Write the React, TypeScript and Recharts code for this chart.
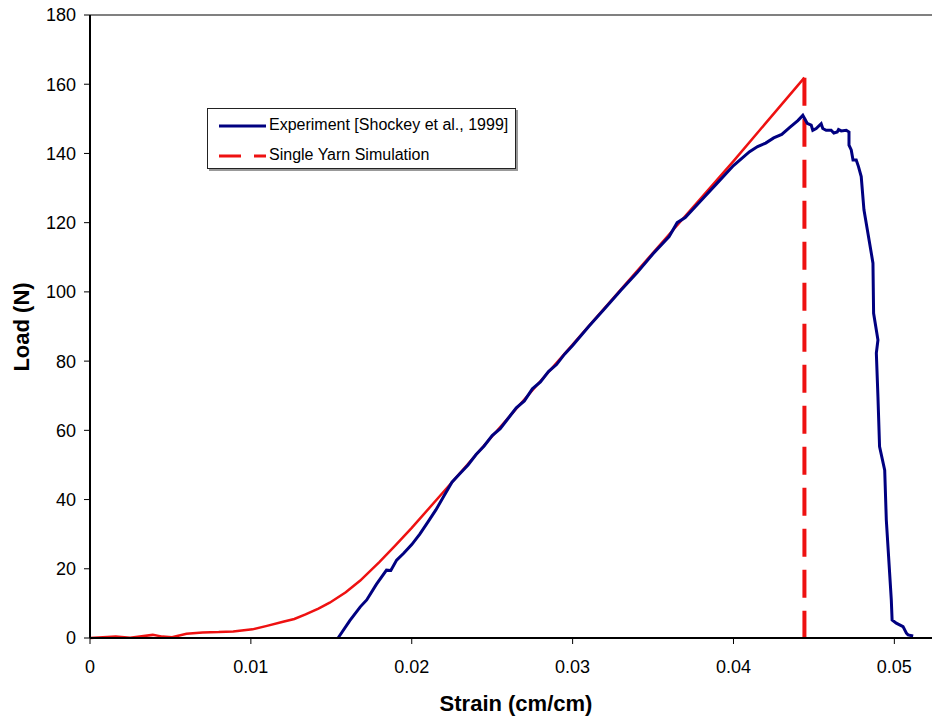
import React from 'react';
import { LineChart, Line, XAxis, YAxis, ReferenceLine } from 'recharts';

// experiment [Shockey et al., 1999]
const expStrain = [
  0.01542, 0.01615, 0.0168, 0.0172, 0.0178, 0.01843, 0.0187, 0.01906, 0.0195, 0.02,
  0.0205, 0.021, 0.0215, 0.022, 0.0225, 0.023, 0.0235, 0.024, 0.0245, 0.025,
  0.0255, 0.026, 0.0265, 0.027, 0.0275, 0.028, 0.0285, 0.029, 0.0295, 0.03,
  0.031, 0.032, 0.033, 0.034, 0.035, 0.036, 0.0365, 0.037, 0.038, 0.039,
  0.04, 0.0405, 0.041, 0.0415, 0.042, 0.0425, 0.043, 0.0435, 0.044, 0.04431,
  0.04458, 0.04483, 0.04493, 0.04514, 0.04545, 0.04555, 0.04576, 0.04607, 0.04624, 0.04645,
  0.04653, 0.0467, 0.04701, 0.04718, 0.04718, 0.04732, 0.04743, 0.04763, 0.04777, 0.04794,
  0.04811, 0.04836, 0.04857, 0.04867, 0.04871, 0.04898, 0.04888, 0.04898, 0.04908, 0.0494,
  0.0495, 0.04981, 0.04986, 0.05012, 0.05054, 0.05075, 0.05085, 0.05117,
];
const expLoad = [
  0, 5, 9, 11, 15.5, 19.6, 19.5, 22.5, 24.5, 27,
  30, 33.5, 37, 41, 45, 47.5, 50, 53, 55.5, 58.5,
  60.5, 63.5, 66.5, 68.5, 72, 74, 77, 79, 82, 84.5,
  90, 95.2, 100.5, 105.5, 111, 116, 120, 121.5, 126.5, 131.5,
  136.5, 138.5, 140.5, 142, 143, 144.5, 145.5, 147.5, 149.5, 151,
  148.7, 148.2, 146.7, 147.2, 148.6, 147.2, 146.7, 146.7, 145.9, 146.2,
  146.9, 146.5, 146.7, 146.2, 142.4, 141, 138.1, 138.1, 136.2, 133.3,
  123.7, 116.9, 111.1, 108.3, 93.8, 86.1, 82.3, 69.7, 55.3, 48.5,
  34.1, 11, 5.2, 4.3, 3.3, 1.4, 0.9, 0.6,
];

// single yarn simulation
const simStrain = [
  0, 0.0008, 0.0016, 0.0025, 0.0039, 0.0045, 0.0051, 0.006, 0.007, 0.008,
  0.0089, 0.0101, 0.011, 0.012, 0.0127, 0.0134, 0.0142, 0.0149, 0.0159, 0.0168,
  0.018, 0.019, 0.02, 0.0225, 0.025, 0.03, 0.035, 0.04, 0.04441,
];
const simLoad = [
  0, 0.2, 0.4, 0.1, 0.9, 0.4, 0.2, 1.2, 1.6, 1.7,
  1.9, 2.5, 3.5, 4.7, 5.5, 6.8, 8.5, 10.2, 13.2, 16.6,
  22, 26.8, 31.8, 45, 58.3, 84.8, 111.3, 137.8, 161.9,
];
// failure drop of the simulation
const dropStrain = [0.04441, 0.04441];
const dropLoad = [161.9, 0];

const xTicks = [0, 0.01, 0.02, 0.03, 0.04, 0.05];
const yTicks = [0, 20, 40, 60, 80, 100, 120, 140, 160, 180];

const expData = expStrain.map((x, i) => ({ x, y: expLoad[i] }));
const simData = simStrain.map((x, i) => ({ x, y: simLoad[i] }));
const dropData = dropStrain.map((x, i) => ({ x, y: dropLoad[i] }));

const FONT = '"Liberation Sans", Arial, sans-serif';
const BLUE = '#000080';
const RED = '#ee1111';

const LegendBox = () => (
  <div
    style={{
      position: 'absolute',
      left: 207,
      top: 108,
      width: 307,
      height: 59,
      border: '1px solid #222',
      boxShadow: '2px 2px 0 #999',
      background: '#fff',
      fontFamily: FONT,
      fontSize: 16,
      color: '#000',
    }}
  >
    <svg width={60} height={59} style={{ position: 'absolute', left: 0, top: 0 }}>
      <line x1={11} x2={58} y1={17} y2={17} stroke={BLUE} strokeWidth={3} />
      <line x1={11} x2={58} y1={47} y2={47} stroke={RED} strokeWidth={3} strokeDasharray="22 13" />
    </svg>
    <div style={{ position: 'absolute', left: 61, top: 7, whiteSpace: 'nowrap' }}>
      Experiment [Shockey et al., 1999]
    </div>
    <div style={{ position: 'absolute', left: 61, top: 37, whiteSpace: 'nowrap' }}>
      Single Yarn Simulation
    </div>
  </div>
);

export default function App() {
  return (
    <div style={{ position: 'absolute', left: 0, top: 0, width: 932, height: 719, overflow: 'hidden', background: '#fff' }}>
      <LineChart width={932} height={719} margin={{ top: 15, right: 0, bottom: 0, left: 0 }}>
        <XAxis
          type="number"
          dataKey="x"
          domain={[0, 0.05234]}
          ticks={xTicks}
          allowDataOverflow
          height={81}
          axisLine={{ stroke: '#000', strokeWidth: 2 }}
          tickLine={{ stroke: '#000', strokeWidth: 1 }}
          tickSize={6}
          tickMargin={16}
          tick={{ fill: '#000', fontSize: 18, fontFamily: FONT }}
          tickFormatter={(v: number) => String(v)}
          label={{
            content: () => (
              <text x={516} y={703} textAnchor="middle" dominantBaseline="central"
                style={{ fontFamily: FONT, fontSize: 22, fontWeight: 'bold', fill: '#000' }}>
                Strain (cm/cm)
              </text>
            ),
          }}
        />
        <YAxis
          type="number"
          dataKey="y"
          domain={[0, 180]}
          ticks={yTicks}
          width={90}
          axisLine={{ stroke: '#000', strokeWidth: 2 }}
          tickLine={{ stroke: '#000', strokeWidth: 1 }}
          tickSize={6}
          tickMargin={8}
          tick={{ fill: '#000', fontSize: 18, fontFamily: FONT }}
          label={{
            content: () => (
              <text x={21} y={327} transform="rotate(-90 21 327)" textAnchor="middle" dominantBaseline="central"
                style={{ fontFamily: FONT, fontSize: 22, fontWeight: 'bold', fill: '#000' }}>
                Load (N)
              </text>
            ),
          }}
        />
        <ReferenceLine y={180} stroke="#808080" strokeWidth={2} />
        <Line data={simData} dataKey="y" type="linear" stroke={RED} strokeWidth={2.5} dot={false} isAnimationActive={false} />
        <Line data={dropData} dataKey="y" type="linear" stroke={RED} strokeWidth={4} strokeDasharray="28 13" dot={false} isAnimationActive={false} />
        <Line data={expData} dataKey="y" type="linear" stroke={BLUE} strokeWidth={3} dot={false} isAnimationActive={false} />
      </LineChart>
      <LegendBox />
    </div>
  );
}
